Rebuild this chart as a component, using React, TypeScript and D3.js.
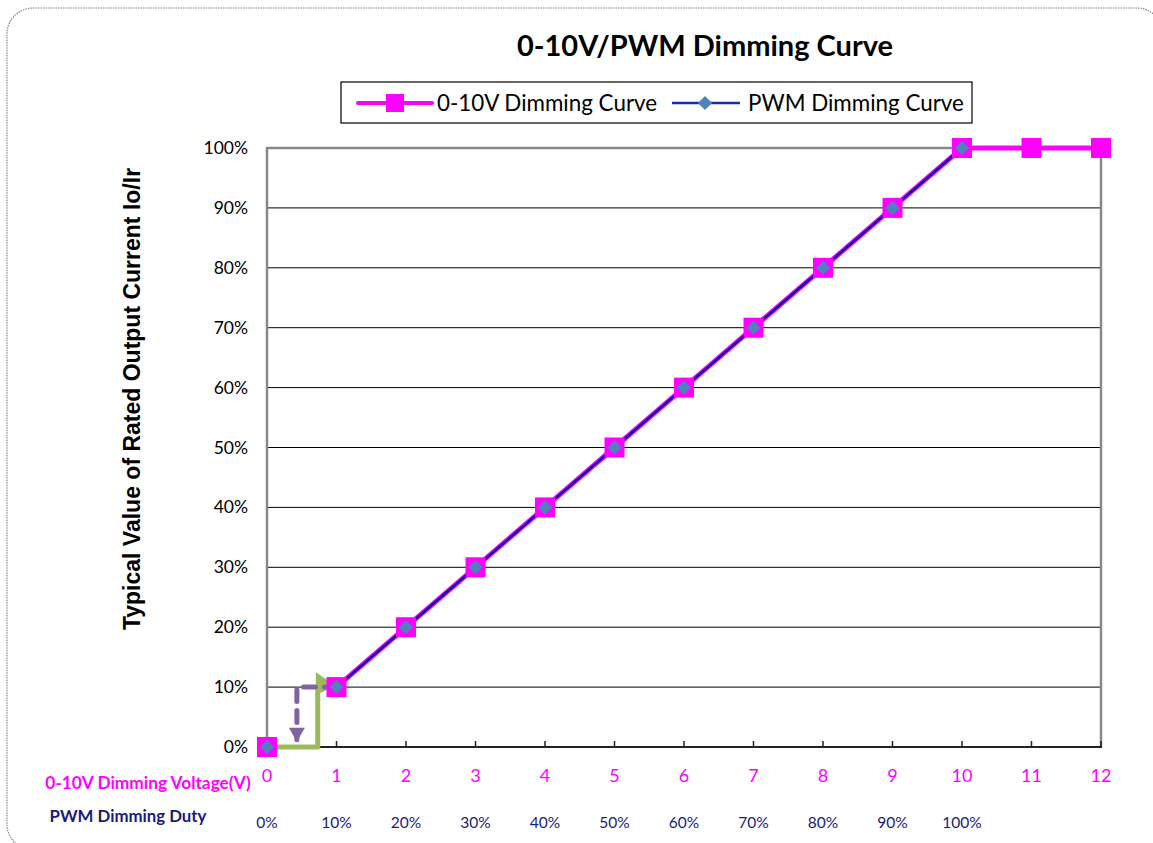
import * as d3 from "d3";

const W = 1153;
const H = 843;
const FONT = "Lato, 'Open Sans', sans-serif";

// 0-10V dimming curve: voltage (V) -> output current (%)
const voltage = [0, 1, 2, 3, 4, 5, 6, 7, 8, 9, 10, 11, 12];
const voltCurrent = [0, 10, 20, 30, 40, 50, 60, 70, 80, 90, 100, 100, 100];

// PWM dimming curve: duty drawn on the same axis positions 0..10
const pwmPos = [0, 1, 2, 3, 4, 5, 6, 7, 8, 9, 10];
const pwmCurrent = [0, 10, 20, 30, 40, 50, 60, 70, 80, 90, 100];
const dutyLabels = ["0%", "10%", "20%", "30%", "40%", "50%", "60%", "70%", "80%", "90%", "100%"];

const yTicks = [0, 10, 20, 30, 40, 50, 60, 70, 80, 90, 100];

// annotation arrows near the origin (in data units)
const greenArrow: [number, number][] = [[0, 0], [0.73, 0], [0.73, 10]];
const purpleArrow: [number, number][] = [[1, 10], [0.43, 10], [0.43, 1.2]];

const MAGENTA = "#ff00ff";
const NAVY = "#1a1a80";

export default function App() {
  const x = d3.scaleLinear().domain([0, 12]).range([267, 1101]);
  const y = d3.scaleLinear().domain([0, 100]).range([747, 148]);

  const line = d3
    .line<[number, number]>()
    .x((d) => x(d[0]))
    .y((d) => y(d[1]));

  const voltPts = voltage.map((v, i) => [v, voltCurrent[i]] as [number, number]);
  const pwmPts = pwmPos.map((v, i) => [v, pwmCurrent[i]] as [number, number]);

  const g0 = greenArrow[2];
  const p0 = purpleArrow[2];

  return (
    <svg
      width={W}
      height={H}
      style={{ position: "absolute", left: 0, top: 0, background: "#fff" }}
      fontFamily={FONT}
    >
      <rect
        x={7}
        y={8}
        width={1156}
        height={842}
        rx={26}
        fill="none"
        stroke="#888"
        strokeWidth={1.2}
        strokeDasharray="1.5 1"
      />

      <text x={705} y={56} textAnchor="middle" fontSize={29} fontWeight={700} fill="#000">
        0-10V/PWM Dimming Curve
      </text>

      {/* legend */}
      <rect x={341} y={82} width={631} height={41} fill="#fff" stroke="#000" strokeWidth={1.2} />
      <line x1={358} x2={432} y1={103} y2={103} stroke={MAGENTA} strokeWidth={4} strokeLinecap="round" />
      <rect x={386} y={94} width={18} height={18} fill={MAGENTA} />
      <text x={437} y={111} fontSize={22.4} fill="#000">0-10V Dimming Curve</text>
      <line x1={672} x2={740} y1={103} y2={103} stroke="#1b2bb0" strokeWidth={2.5} />
      <rect x={700} y={98} width={10} height={10} fill="#4f81bd" transform="rotate(45 705 103)" />
      <text x={748} y={111} fontSize={22.4} fill="#000">PWM Dimming Curve</text>

      {/* gridlines */}
      {yTicks
        .filter((t) => t > 0 && t < 100)
        .map((t) => (
          <line key={t} x1={x(0)} x2={x(12)} y1={y(t)} y2={y(t)} stroke="#000" strokeWidth={1} />
        ))}
      {/* plot frame */}
      <path
        d={`M${x(0)},${y(0)}V${y(100)}H${x(12)}V${y(0)}`}
        fill="none"
        stroke="#888"
        strokeWidth={2.5}
      />
      <line x1={x(0)} x2={x(12) + 1} y1={y(0)} y2={y(0)} stroke="#222" strokeWidth={2} />
      {voltage.map((v) => (
        <line key={v} x1={x(v)} x2={x(v)} y1={y(0)} y2={y(0) - 6} stroke="#222" strokeWidth={1.5} />
      ))}

      {/* y tick labels */}
      {yTicks.map((t) => (
        <text key={t} x={248} y={y(t) + 6} textAnchor="end" fontSize={17.5} fill="#000">
          {t}%
        </text>
      ))}

      {/* x tick labels */}
      {voltage.map((v) => (
        <text key={v} x={x(v)} y={782} textAnchor="middle" fontSize={18} fill={MAGENTA}>
          {v}
        </text>
      ))}
      {pwmPos.map((v, i) => (
        <text key={v} x={x(v)} y={828} textAnchor="middle" fontSize={15.5} fill={NAVY}>
          {dutyLabels[i]}
        </text>
      ))}
      <text x={148} y={789} textAnchor="middle" fontSize={17.3} fontWeight={700} fill={MAGENTA}>
        0-10V Dimming Voltage(V)
      </text>
      <text x={128} y={822} textAnchor="middle" fontSize={16.8} fontWeight={700} fill={NAVY}>
        PWM Dimming Duty
      </text>

      {/* y axis title */}
      <text
        transform="translate(140,399) rotate(-90)"
        textAnchor="middle"
        fontFamily="'Liberation Sans', Arial, sans-serif"
        fontSize={23}
        fontWeight={700}
        fill="#000"
      >
        Typical Value of Rated Output Current Io/Ir
      </text>

      {/* series lines */}
      <path d={line(voltPts.slice(1)) ?? ""} fill="none" stroke={MAGENTA} strokeWidth={5} />
      <path d={line(pwmPts.slice(1)) ?? ""} fill="none" stroke="#0a14a0" strokeWidth={2.5} />

      {/* annotation arrows */}
      <path
        d={line(greenArrow) ?? ""}
        fill="none"
        stroke="#9bbb59"
        strokeWidth={5}
        strokeLinejoin="round"
      />
      <path
        d={`M${x(g0[0]) - 2},${y(g0[1]) - 15}L${x(g0[0]) + 18},${y(g0[1]) - 1}L${x(g0[0]) - 2},${y(g0[1]) + 8}Z`}
        fill="#9bbb59"
      />
      <path
        d={line(purpleArrow) ?? ""}
        fill="none"
        stroke="#8064a2"
        strokeWidth={5}
        strokeLinecap="round"
        strokeDasharray="12 9"
      />
      <path
        d={`M${x(p0[0]) - 8},${y(p0[1]) - 12}L${x(p0[0]) + 8},${y(p0[1]) - 12}L${x(p0[0])},${y(p0[1]) + 2}Z`}
        fill="#8064a2"
      />

      {/* markers */}
      {voltPts.map(([v, c]) => (
        <rect key={v} x={x(v) - 10} y={y(c) - 10} width={20} height={20} fill={MAGENTA} />
      ))}
      {pwmPts.map(([v, c]) => (
        <rect
          key={v}
          x={x(v) - 5}
          y={y(c) - 5}
          width={10}
          height={10}
          fill="#4f81bd"
          transform={`rotate(45 ${x(v)} ${y(c)})`}
        />
      ))}
    </svg>
  );
}
